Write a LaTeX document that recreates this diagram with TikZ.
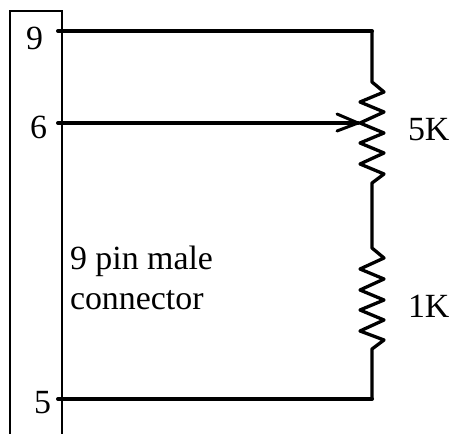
\documentclass[tikz,border=0pt]{standalone}
\usepackage{fontspec}
\setmainfont{Liberation Serif}
\tikzset{
  lbl/.style={anchor=base west,inner sep=0pt,outer sep=0pt,font=\fontsize{34}{40}\selectfont,text=black},
  wire/.style={line width=4bp,line cap=round,line join=round,black},
  zigzag/.style={line width=3.3bp,line cap=butt,line join=round,black},
  barb/.style={line width=3bp,line cap=round,line join=round,black},
  body/.style={line width=2bp,black}
}
\begin{document}
\begin{tikzpicture}[x=1bp,y=-1bp]
\useasboundingbox (0,0) rectangle (450,434);
\fill[white] (0,0) rectangle (450,434);
\coordinate (bl) at (10,434);
\coordinate (tl) at (10,11);
\coordinate (tr) at (62,11);
\coordinate (br) at (62,434);
\draw[body] (bl) -- (tl) -- (tr) -- (br);
\coordinate (p9) at (58,31);
\coordinate (p6) at (58,123);
\coordinate (p5) at (58,399);
\coordinate (t9) at (372,31);
\coordinate (t5) at (372,399);
\coordinate (tip) at (358,123);
\coordinate (b1) at (337,114);
\coordinate (b2) at (337,131);
\coordinate (r1a) at (372,82);
\coordinate (r1b) at (372,183);
\coordinate (r2a) at (372,248);
\coordinate (r2b) at (372,349);
\draw[wire] (p9) -- (t9);
\draw[wire] (p5) -- (t5);
\draw[wire] (p6) -- (tip);
\draw[barb] (b1) -- (tip) -- (b2);
\draw[zigzag] (t9) -- (r1a) -- (384,92) -- (360,102) -- (384,112) -- (360,123) -- (384,133) -- (360,143) -- (384,153) -- (360,164) -- (384,174) -- (r1b) -- (r2a) -- (384,258) -- (360,269) -- (384,279) -- (360,290) -- (384,300) -- (360,310) -- (384,320) -- (360,331) -- (384,340) -- (r2b) -- (t5);
\node[lbl] (n9) at (26,50) {9};
\node[lbl] (n6) at (30,139) {6};
\node[lbl] (n5) at (34,413) {5};
\node[lbl] (k5) at (408,141) {5K};
\node[lbl] (k1) at (408,317) {1K};
\node[lbl] (c1) at (70,269) {9 pin male};
\node[lbl] (c2) at (70,309) {connector};
\end{tikzpicture}
\end{document}
